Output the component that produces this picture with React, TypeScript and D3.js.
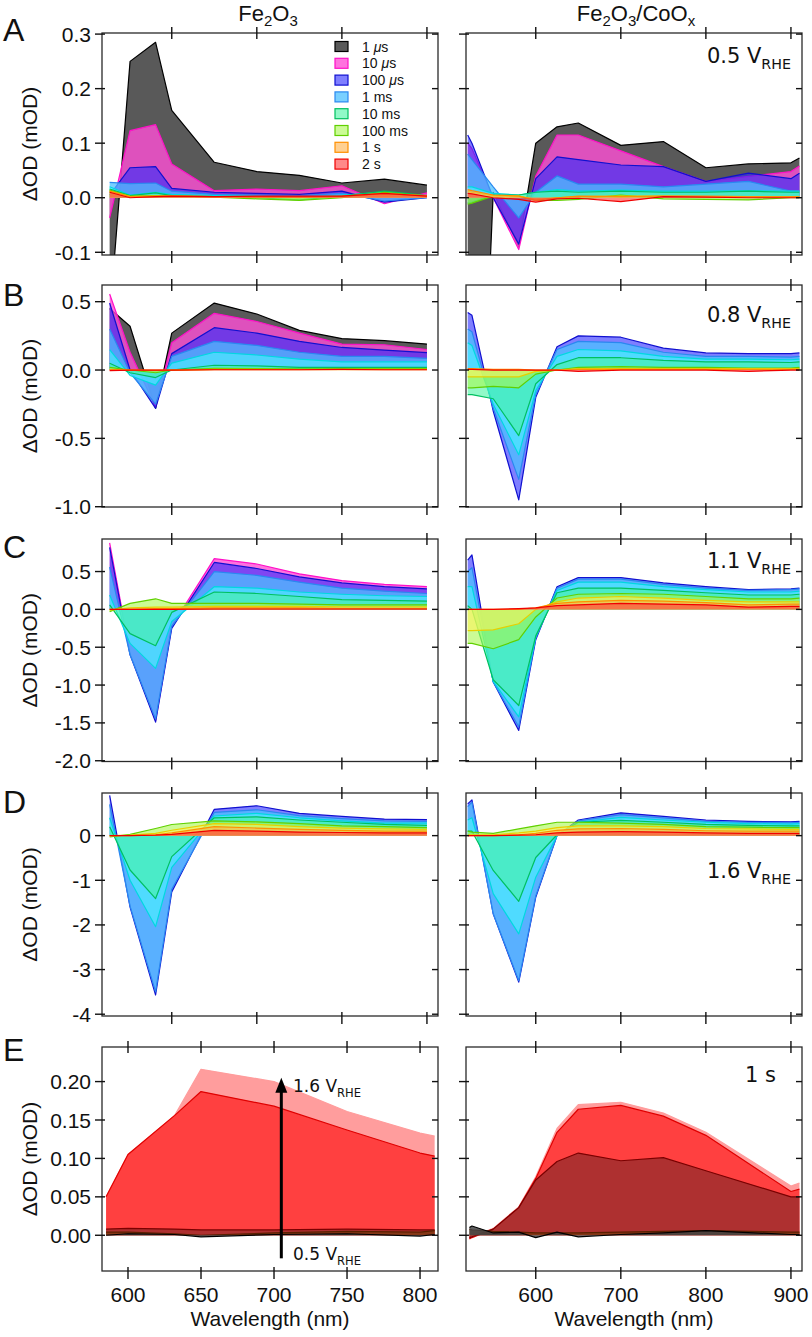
import React from "react";
import * as d3 from "d3";

// ---------------- data ----------------
// wavelengths (nm)
const WL_FE = [527, 551, 581, 600, 650, 700, 750, 800, 850, 900];
const WL_CO = [520, 525, 550, 580, 600, 625, 650, 700, 750, 800, 850, 900, 910];
const WL_E_FE = [585, 600, 632, 650, 700, 750, 800, 810];
const WL_E_CO = [522, 525, 550, 580, 600, 625, 650, 700, 750, 800, 900, 910];

// time-delay series (null label = unlabelled intermediate trace)
const TIME_LABELS: (string | null)[] = ["1 μs", "10 μs", "100 μs", "1 ms", null, "10 ms", "100 ms", null, "1 s", "2 s"];

// Panel A (0.5 V)
const A_FE: (number[] | null)[] = [
  [-0.22, 0.25, 0.285, 0.16, 0.065, 0.048, 0.041, 0.027, 0.034, 0.023],
  [-0.037, 0.123, 0.134, 0.062, 0.013, 0.016, 0.013, 0.022, -0.011, 0.009],
  [0.005, 0.055, 0.057, 0.017, 0.01, 0.008, 0.006, 0.012, -0.008, 0.0],
  [0.028, 0.026, 0.027, 0.012, 0.006, 0.005, 0.004, 0.008, -0.006, 0.0],
  [0.02, 0.005, 0.01, 0.006, 0.004, 0.003, 0.0, 0.005, 0.01, 0.003],
  [0.016, 0.004, 0.009, 0.004, 0.002, 0.0, -0.004, 0.003, 0.012, 0.004],
  [0.014, 0.003, 0.004, 0.003, 0.001, -0.002, -0.005, 0.0, 0.01, 0.003],
  [0.012, 0.002, 0.003, 0.003, 0.002, 0.001, 0.0, 0.002, 0.008, 0.003],
  [0.012, 0.002, 0.003, 0.003, 0.002, 0.002, 0.001, 0.003, 0.007, 0.004],
  [0.01, 0.0, 0.002, 0.003, 0.002, 0.003, 0.003, 0.003, 0.008, 0.003],
];
const A_CO: (number[] | null)[] = [
  [-0.9, -0.9, 0.01, -0.09, 0.1, 0.13, 0.137, 0.096, 0.103, 0.055, 0.062, 0.064, 0.073],
  [0.1, 0.09, 0.0, -0.095, 0.04, 0.115, 0.115, 0.086, 0.057, 0.03, 0.039, 0.048, 0.058],
  [0.115, 0.1, 0.0, -0.085, 0.035, 0.075, 0.07, 0.06, 0.057, 0.03, 0.045, 0.035, 0.045],
  [0.08, 0.07, 0.02, -0.037, 0.01, 0.04, 0.025, 0.025, 0.02, 0.025, 0.03, 0.012, 0.012],
  [0.02, 0.02, 0.008, 0.005, 0.01, 0.015, 0.012, 0.014, 0.012, 0.012, 0.013, 0.012, 0.012],
  [-0.01, -0.008, 0.005, 0.005, 0.01, 0.012, 0.01, 0.012, 0.01, 0.01, 0.012, 0.01, 0.01],
  [-0.012, -0.01, 0.003, 0.003, -0.005, -0.005, -0.003, 0.005, -0.002, -0.003, -0.004, 0.0, 0.0],
  [0.012, 0.01, 0.004, 0.003, -0.003, 0.0, 0.002, 0.003, 0.003, 0.002, 0.002, 0.002, 0.002],
  [0.015, 0.013, 0.005, 0.003, -0.005, 0.0, 0.003, 0.002, 0.003, 0.003, 0.002, 0.002, 0.002],
  [0.008, 0.007, 0.0, -0.003, -0.008, -0.002, -0.001, -0.007, 0.002, 0.001, 0.0, 0.0, 0.0],
];

// Panel B (0.8 V)
const B_FE: (number[] | null)[] = [
  [0.45, 0.32, -0.28, 0.27, 0.49, 0.41, 0.29, 0.23, 0.215, 0.19],
  [0.556, 0.13, -0.27, 0.2, 0.415, 0.355, 0.27, 0.19, 0.185, 0.15],
  [0.49, 0.0, -0.28, 0.12, 0.31, 0.27, 0.21, 0.165, 0.146, 0.127],
  [0.3, -0.02, -0.25, 0.1, 0.21, 0.18, 0.13, 0.1, 0.1, 0.085],
  [0.15, -0.04, -0.11, 0.05, 0.13, 0.11, 0.08, 0.06, 0.06, 0.06],
  [0.05, -0.02, -0.055, 0.0, 0.035, 0.03, 0.02, 0.02, 0.02, 0.02],
  [0.02, 0.0, -0.02, 0.0, 0.012, 0.01, 0.008, 0.01, 0.01, 0.01],
  [0.005, 0.0, -0.005, 0.0, 0.005, 0.005, 0.004, 0.005, 0.005, 0.005],
  [0.003, 0.0, 0.0, 0.0, 0.003, 0.003, 0.003, 0.003, 0.003, 0.003],
  [-0.005, 0.0, 0.0, 0.0, 0.002, 0.002, 0.002, 0.005, 0.002, 0.002],
];
const B_CO: (number[] | null)[] = [
  null,
  null,
  [0.42, 0.4, -0.3, -0.95, -0.2, 0.17, 0.25, 0.24, 0.16, 0.125, 0.12, 0.12, 0.125],
  [0.3, 0.28, -0.28, -0.8, -0.18, 0.15, 0.21, 0.2, 0.13, 0.1, 0.1, 0.095, 0.1],
  [0.2, 0.18, -0.25, -0.62, -0.15, 0.1, 0.15, 0.14, 0.1, 0.08, 0.08, 0.075, 0.08],
  [-0.18, -0.18, -0.21, -0.48, -0.1, 0.04, 0.09, 0.09, 0.07, 0.06, 0.06, 0.055, 0.06],
  [-0.13, -0.13, -0.12, -0.13, -0.03, 0.0, 0.02, 0.025, 0.02, 0.02, 0.015, 0.015, 0.02],
  [-0.05, -0.05, -0.05, -0.05, -0.01, 0.0, 0.01, 0.01, 0.01, 0.01, 0.01, 0.01, 0.01],
  [0.01, 0.01, 0.005, 0.005, 0.0, 0.0, 0.005, 0.005, 0.005, 0.005, 0.005, 0.005, 0.005],
  [0.005, 0.005, 0.0, 0.0, 0.0, 0.0, -0.01, 0.0, 0.0, 0.0, -0.01, 0.0, 0.0],
];

// Panel C (1.1 V)
const C_FE: (number[] | null)[] = [
  null,
  [0.88, -0.58, -1.47, -0.22, 0.67, 0.6, 0.47, 0.38, 0.33, 0.3],
  [0.82, -0.6, -1.49, -0.25, 0.62, 0.54, 0.43, 0.35, 0.3, 0.27],
  [0.56, -0.6, -1.45, -0.22, 0.5, 0.45, 0.36, 0.28, 0.24, 0.21],
  [0.19, -0.45, -0.78, -0.16, 0.3, 0.28, 0.23, 0.2, 0.18, 0.17],
  [0.06, -0.32, -0.48, -0.04, 0.23, 0.21, 0.17, 0.13, 0.12, 0.11],
  [-0.03, 0.08, 0.14, 0.08, 0.08, 0.08, 0.07, 0.06, 0.06, 0.06],
  [-0.01, 0.02, 0.03, 0.03, 0.04, 0.04, 0.04, 0.035, 0.035, 0.035],
  [0.0, 0.0, 0.01, 0.01, 0.02, 0.02, 0.02, 0.015, 0.015, 0.015],
  [0.0, 0.0, 0.0, 0.0, 0.005, 0.005, 0.005, 0.005, 0.005, 0.005],
];
const C_CO: (number[] | null)[] = [
  null,
  null,
  [0.65, 0.72, -0.96, -1.6, -0.4, 0.3, 0.42, 0.42, 0.35, 0.3, 0.26, 0.27, 0.28],
  [0.5, 0.55, -0.96, -1.55, -0.38, 0.28, 0.4, 0.4, 0.33, 0.28, 0.25, 0.26, 0.27],
  [0.3, 0.3, -0.95, -1.42, -0.36, 0.25, 0.36, 0.36, 0.3, 0.26, 0.23, 0.23, 0.24],
  [0.05, 0.0, -0.93, -1.27, -0.35, 0.22, 0.28, 0.28, 0.25, 0.22, 0.19, 0.19, 0.2],
  [-0.45, -0.45, -0.52, -0.4, -0.1, 0.15, 0.2, 0.21, 0.2, 0.17, 0.14, 0.14, 0.15],
  [-0.28, -0.28, -0.27, -0.19, 0.0, 0.1, 0.15, 0.17, 0.15, 0.12, 0.1, 0.1, 0.1],
  [0.0, 0.0, 0.0, 0.0, 0.02, 0.08, 0.1, 0.12, 0.11, 0.09, 0.06, 0.07, 0.07],
  [0.0, 0.0, 0.0, 0.01, 0.02, 0.05, 0.06, 0.08, 0.07, 0.06, 0.03, 0.04, 0.04],
];

// Panel D (1.6 V)
const D_FE: (number[] | null)[] = [
  null,
  null,
  [0.9, -1.6, -3.57, -1.26, 0.59, 0.67, 0.5, 0.43, 0.37, 0.36],
  [0.7, -1.58, -3.5, -1.2, 0.52, 0.58, 0.45, 0.38, 0.33, 0.32],
  [0.4, -1.0, -2.04, -0.71, 0.44, 0.5, 0.4, 0.33, 0.28, 0.28],
  [0.2, -0.77, -1.41, -0.47, 0.4, 0.42, 0.35, 0.3, 0.25, 0.23],
  [-0.03, 0.03, 0.16, 0.25, 0.33, 0.31, 0.27, 0.22, 0.2, 0.18],
  [0.0, 0.01, 0.05, 0.12, 0.27, 0.25, 0.2, 0.17, 0.15, 0.14],
  [0.0, 0.0, 0.02, 0.06, 0.2, 0.17, 0.14, 0.12, 0.1, 0.1],
  [0.0, 0.0, 0.01, 0.03, 0.12, 0.1, 0.08, 0.07, 0.06, 0.06],
];
const D_CO: (number[] | null)[] = [
  null,
  null,
  [0.71, 0.8, -1.75, -3.28, -1.38, 0.0, 0.35, 0.51, 0.43, 0.35, 0.32, 0.31, 0.32],
  [0.65, 0.75, -1.75, -3.25, -1.35, 0.0, 0.33, 0.47, 0.4, 0.32, 0.3, 0.29, 0.3],
  [0.35, 0.4, -1.3, -2.2, -0.93, 0.0, 0.3, 0.41, 0.35, 0.3, 0.27, 0.26, 0.27],
  [0.1, 0.1, -0.78, -1.47, -0.49, 0.02, 0.3, 0.34, 0.3, 0.25, 0.23, 0.22, 0.22],
  [0.1, 0.08, 0.05, 0.15, 0.22, 0.3, 0.3, 0.28, 0.25, 0.2, 0.19, 0.18, 0.18],
  [0.02, 0.02, 0.02, 0.06, 0.1, 0.18, 0.22, 0.22, 0.2, 0.16, 0.15, 0.14, 0.14],
  [0.0, 0.0, 0.0, 0.02, 0.05, 0.12, 0.15, 0.16, 0.14, 0.11, 0.1, 0.1, 0.1],
  [0.0, 0.0, 0.0, 0.01, 0.02, 0.06, 0.08, 0.09, 0.08, 0.06, 0.05, 0.05, 0.05],
];

// Panel E (1 s, potential series), in draw order: light, 1.6 V, 1.1 V, 0.8 V, 0.5 V
const E_FE: (number[] | null)[] = [
  [0.05, 0.105, 0.156, 0.216, 0.2, 0.161, 0.133, 0.129],
  [0.05, 0.105, 0.156, 0.187, 0.168, 0.137, 0.107, 0.103],
  [0.008, 0.009, 0.008, 0.007, 0.007, 0.008, 0.007, 0.007],
  [0.004, 0.004, 0.002, 0.0, 0.003, 0.005, 0.004, 0.006],
  [0.0, 0.002, 0.001, -0.002, 0.001, 0.002, -0.001, 0.001],
];
const E_CO: (number[] | null)[] = [
  [-0.004, -0.002, 0.009, 0.037, 0.076, 0.139, 0.17, 0.173, 0.159, 0.134, 0.064, 0.068],
  [-0.005, -0.003, 0.008, 0.036, 0.074, 0.134, 0.164, 0.169, 0.155, 0.13, 0.057, 0.06],
  [-0.003, -0.002, 0.008, 0.036, 0.072, 0.096, 0.107, 0.097, 0.101, 0.084, 0.05, 0.05],
  [0.008, 0.007, 0.005, 0.004, 0.003, 0.003, 0.003, 0.004, 0.005, 0.006, 0.004, 0.004],
  [0.01, 0.012, 0.003, 0.004, -0.003, 0.004, -0.002, 0.001, 0.003, 0.006, 0.001, 0.001],
];

// ticks
const X_TICKS_TOP = [600, 700, 800, 900];
const X_TICKS_E_FE = [600, 650, 700, 750, 800];
const X_TICKS_E_CO = [600, 700, 800, 900];
const Y_TICKS_A = [-0.1, 0, 0.1, 0.2, 0.3];
const Y_TICKS_B = [-1.0, -0.5, 0, 0.5];
const Y_TICKS_C = [-2.0, -1.5, -1.0, -0.5, 0, 0.5];
const Y_TICKS_D = [-4, -3, -2, -1, 0];
const Y_TICKS_E = [0, 0.05, 0.1, 0.15, 0.2];
const POTENTIALS = ["0.5", "0.8", "1.1", "1.6"];

// ---------------- styling / layout ----------------
const T_FILL = ["#3c3c3c", "#ff4fd6", "#2a2aff", "#4cc0ff", "#4af8ff", "#48f5a4", "#a8f850", "#fff45a", "#ffb04a", "#ff3a3a"];
const T_STROKE = ["#000000", "#ff10c8", "#1010d0", "#2a88f0", "#00d8e0", "#00c060", "#60d000", "#e8d000", "#ff9000", "#f00000"];
const T_OPAC = [0.85, 0.8, 0.6, 0.75, 0.6, 0.6, 0.6, 0.6, 0.6, 0.6];

const E_FILL = ["#ff8c8c", "#ff3030", "#8c2a2a", "#7a3a10", "#444444"];
const E_STROKE = ["#ff9c9c", "#e00000", "#7a0000", "#5a2000", "#000000"];
const E_OPAC = [0.85, 0.85, 0.7, 0.8, 0.85];

const COL_X = [[102, 438], [466, 802]];
const ROW_Y = [[33, 255], [285, 507], [539, 761.5], [793, 1016], [1047, 1271]];
const Y_DOMAINS = [[-0.105, 0.302], [-1.002, 0.622], [-2.01, 0.93], [-4.04, 0.955], [-0.0465, 0.245]];
const X_DOMAIN_TOP = [518, 913];
const X_DOMAIN_E_FE = [582.2, 812.3];
const X_DOMAIN_E_CO = [518, 913];

const SANS = "'Liberation Sans', Arial, Helvetica, sans-serif";
const ANNO = "'DejaVu Sans', Verdana, sans-serif";

const fmt = (spec: string) => (v: number) => d3.format(spec)(v).replace("\u2212", "-");

type PanelProps = {
  id: string;
  col: number;
  row: number;
  wl: number[];
  series: (number[] | null)[];
  fills: string[];
  strokes: string[];
  opac: number[];
  xDomain: number[];
  xTicks: number[];
  yTicks: number[];
  yFmt: (v: number) => string;
  leftLabels: boolean;
  bottomLabels: boolean;
  children?: (x: d3.ScaleLinear<number, number>, y: d3.ScaleLinear<number, number>) => React.ReactNode;
};

function Panel(p: PanelProps) {
  const [x0, x1] = COL_X[p.col];
  const [y0, y1] = ROW_Y[p.row];
  const x = d3.scaleLinear().domain(p.xDomain).range([x0, x1]);
  const y = d3.scaleLinear().domain(Y_DOMAINS[p.row]).range([y1, y0]);
  const area = d3
    .area<[number, number]>()
    .x((d) => x(d[0]))
    .y0(y(0))
    .y1((d) => y(d[1]));
  const line = d3
    .line<[number, number]>()
    .x((d) => x(d[0]))
    .y((d) => y(d[1]));
  const clip = `clip-${p.id}`;
  return (
    <g>
      <defs>
        <clipPath id={clip}>
          <rect x={x0} y={y0} width={x1 - x0} height={y1 - y0} />
        </clipPath>
      </defs>
      <g clipPath={`url(#${clip})`}>
        {p.series.map((vals, i) => {
          if (!vals) return null;
          const pts = p.wl.map((w, j) => [w, vals[j]] as [number, number]);
          return (
            <g key={i}>
              <path d={area(pts) || ""} fill={p.fills[i]} fillOpacity={p.opac[i]} stroke="none" />
              <path d={line(pts) || ""} fill="none" stroke={p.strokes[i]} strokeWidth={1.2} strokeLinejoin="round" />
            </g>
          );
        })}
      </g>
      {p.children ? p.children(x, y) : null}
      <rect x={x0} y={y0} width={x1 - x0} height={y1 - y0} fill="none" stroke="#2a2a2a" strokeWidth={1.3} />
      {p.yTicks.map((t) => (
        <g key={"y" + t}>
          <line x1={x0 - 7} x2={x0 + 3} y1={y(t)} y2={y(t)} stroke="#111" strokeWidth={1.4} />
          <line x1={x1 - 6} x2={x1} y1={y(t)} y2={y(t)} stroke="#111" strokeWidth={1.4} />
          {p.leftLabels ? (
            <text x={x0 - 11} y={y(t)} dy="0.36em" textAnchor="end" fontSize={21} fontFamily={SANS} fill="#111">
              {p.yFmt(t)}
            </text>
          ) : null}
        </g>
      ))}
      {p.xTicks.map((t) => (
        <g key={"x" + t}>
          <line x1={x(t)} x2={x(t)} y1={y0 - 6} y2={y0 + 6} stroke="#111" strokeWidth={1.4} />
          <line x1={x(t)} x2={x(t)} y1={y1 - 4} y2={y1 + 8} stroke="#111" strokeWidth={1.4} />
          {p.bottomLabels ? (
            <text x={x(t)} y={y1 + 31} textAnchor="middle" fontSize={21} fontFamily={SANS} fill="#111">
              {t}
            </text>
          ) : null}
        </g>
      ))}
    </g>
  );
}

function VLabel({ v, x, y, size, anchor }: { v: string; x: number; y: number; size: number; anchor: "start" | "end" }) {
  const sub = size * 0.68;
  return (
    <text x={x} y={y} fontSize={size} fontFamily={ANNO} textAnchor={anchor} fill="#111">
      {v} V
      <tspan fontSize={sub} dy={size * 0.28}>RHE</tspan>
    </text>
  );
}

export default function App() {
  const rowsFe = [A_FE, B_FE, C_FE, D_FE];
  const rowsCo = [A_CO, B_CO, C_CO, D_CO];
  const yTicks = [Y_TICKS_A, Y_TICKS_B, Y_TICKS_C, Y_TICKS_D];
  const yFmts = [fmt(".1f"), fmt(".1f"), fmt(".1f"), fmt("d")];
  const letters = ["A", "B", "C", "D", "E"];
  const letterY = [41, 306, 558, 813, 1061];
  const annoY = [63, 322, 568, 878];
  const legendItems = TIME_LABELS.map((l, i) => ({ l, i })).filter((d) => d.l !== null);

  return (
    <svg
      width={812}
      height={1337}
      viewBox="0 0 812 1337"
      style={{ position: "absolute", left: 0, top: 0, display: "block", background: "#fff" }}
    >
      <rect x={0} y={0} width={812} height={1337} fill="#fff" />

      {/* column titles */}
      <text x={268} y={21} textAnchor="middle" fontSize={22} fontFamily={SANS} fill="#111">
        Fe<tspan fontSize={15} dy={5}>2</tspan>
        <tspan dy={-5}>O</tspan>
        <tspan fontSize={15} dy={5}>3</tspan>
      </text>
      <text x={636} y={21} textAnchor="middle" fontSize={22} fontFamily={SANS} fill="#111">
        Fe<tspan fontSize={15} dy={5}>2</tspan>
        <tspan dy={-5}>O</tspan>
        <tspan fontSize={15} dy={5}>3</tspan>
        <tspan dy={-5}>/CoO</tspan>
        <tspan fontSize={15} dy={5}>x</tspan>
      </text>

      {/* panel letters and y labels */}
      {letters.map((L, r) => (
        <g key={L}>
          <text x={3} y={letterY[r]} fontSize={32} fontFamily={SANS} fill="#111">
            {L}
          </text>
          <text
            transform={`translate(37,${(ROW_Y[r][0] + ROW_Y[r][1]) / 2}) rotate(-90)`}
            textAnchor="middle"
            fontSize={21}
            fontFamily={SANS}
            fill="#111"
          >
            ΔOD (mOD)
          </text>
        </g>
      ))}

      {/* rows A-D */}
      {rowsFe.map((s, r) => (
        <Panel
          key={"fe" + r}
          id={"fe" + r}
          col={0}
          row={r}
          wl={WL_FE}
          series={s}
          fills={T_FILL}
          strokes={T_STROKE}
          opac={T_OPAC}
          xDomain={X_DOMAIN_TOP}
          xTicks={X_TICKS_TOP}
          yTicks={yTicks[r]}
          yFmt={yFmts[r]}
          leftLabels={true}
          bottomLabels={false}
        />
      ))}
      {rowsCo.map((s, r) => (
        <Panel
          key={"co" + r}
          id={"co" + r}
          col={1}
          row={r}
          wl={WL_CO}
          series={s}
          fills={T_FILL}
          strokes={T_STROKE}
          opac={T_OPAC}
          xDomain={X_DOMAIN_TOP}
          xTicks={X_TICKS_TOP}
          yTicks={yTicks[r]}
          yFmt={yFmts[r]}
          leftLabels={false}
          bottomLabels={false}
        />
      ))}
      {POTENTIALS.map((v, r) => (
        <VLabel key={v} v={v} x={791} y={annoY[r]} size={21} anchor="end" />
      ))}

      {/* legend */}
      {legendItems.map((d, k) => {
        const cy = 46.5 + k * 16.8;
        const parts = (d.l as string).split(" ");
        const unit = parts[1];
        return (
          <g key={d.l as string}>
            <rect x={335} y={cy - 5} width={13} height={10} fill="#fff" />
            <rect
              x={335}
              y={cy - 5}
              width={13}
              height={10}
              fill={T_FILL[d.i]}
              fillOpacity={T_OPAC[d.i]}
              stroke={T_STROKE[d.i]}
              strokeWidth={1.2}
            />
            <text x={362} y={cy + 5} fontSize={14} fontFamily={SANS} fill="#111">
              {parts[0]}{" "}
              {unit === "μs" ? (
                <tspan>
                  <tspan fontStyle="italic">μ</tspan>s
                </tspan>
              ) : (
                unit
              )}
            </text>
          </g>
        );
      })}

      {/* row E */}
      <Panel
        id="efe"
        col={0}
        row={4}
        wl={WL_E_FE}
        series={E_FE}
        fills={E_FILL}
        strokes={E_STROKE}
        opac={E_OPAC}
        xDomain={X_DOMAIN_E_FE}
        xTicks={X_TICKS_E_FE}
        yTicks={Y_TICKS_E}
        yFmt={fmt(".2f")}
        leftLabels={true}
        bottomLabels={true}
      >
        {(x, y) => {
          const ax = x(705);
          const tip = y(0.205);
          return (
            <g>
              <line x1={ax} x2={ax} y1={y(-0.03)} y2={tip + 12} stroke="#000" strokeWidth={3} />
              <path d={`M${ax},${tip} L${ax - 6},${tip + 15} L${ax + 6},${tip + 15} Z`} fill="#000" />
            </g>
          );
        }}
      </Panel>
      <VLabel v="1.6" x={293} y={1092} size={17} anchor="start" />
      <VLabel v="0.5" x={293} y={1260} size={17} anchor="start" />

      <Panel
        id="eco"
        col={1}
        row={4}
        wl={WL_E_CO}
        series={E_CO}
        fills={E_FILL}
        strokes={E_STROKE}
        opac={E_OPAC}
        xDomain={X_DOMAIN_E_CO}
        xTicks={X_TICKS_E_CO}
        yTicks={Y_TICKS_E}
        yFmt={fmt(".2f")}
        leftLabels={false}
        bottomLabels={true}
      />
      <text x={776} y={1082} textAnchor="end" fontSize={21} fontFamily={ANNO} fill="#111">
        1 s
      </text>

      {/* x axis titles */}
      <text x={270} y={1326} textAnchor="middle" fontSize={21} fontFamily={SANS} fill="#111">
        Wavelength (nm)
      </text>
      <text x={634} y={1326} textAnchor="middle" fontSize={21} fontFamily={SANS} fill="#111">
        Wavelength (nm)
      </text>
    </svg>
  );
}
